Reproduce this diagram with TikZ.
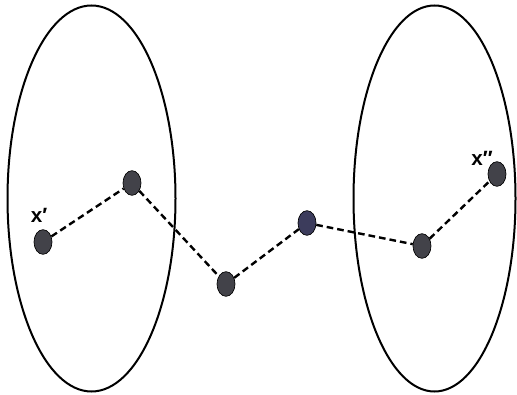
\documentclass[tikz,border=0pt]{standalone}
\usepackage{fontspec}
\setmainfont{Liberation Sans}
\usetikzlibrary{shapes.geometric}
\definecolor{dotgray}{HTML}{424249}
\definecolor{dotblue}{HTML}{3C3C5C}
\begin{document}
\begin{tikzpicture}[x=0.75pt,y=-0.75pt,
  region/.style={draw=black, line width=1.5pt},
  pointdot/.style={ellipse, draw=black, line width=0.5pt, fill=dotgray, minimum width=13.5pt, minimum height=18.5pt, inner sep=0pt},
  conn/.style={draw=black, line width=1.8pt, dash pattern=on 5pt off 3pt},
  lbl/.style={font=\fontsize{15.5}{18}\selectfont\bfseries, inner sep=0pt}]
\useasboundingbox (0,0) rectangle (517,395);
\draw[region] (91.5,198.5) ellipse [x radius=84, y radius=193];
\draw[region] (434.5,198.5) ellipse [x radius=81, y radius=193];
\node[pointdot] (a) at (43,242) {};
\node[pointdot] (b) at (132,183) {};
\node[pointdot] (c) at (226,284) {};
\node[pointdot, fill=dotblue] (d) at (307,223) {};
\node[pointdot] (e) at (422,246) {};
\node[pointdot] (f) at (497,174) {};
\draw[conn] (a) -- (b) -- (c) -- (d) -- (e) -- (f);
\node[lbl] (la) at (39,215) {x′};
\node[lbl] (lf) at (482,158) {x″};
\end{tikzpicture}
\end{document}
